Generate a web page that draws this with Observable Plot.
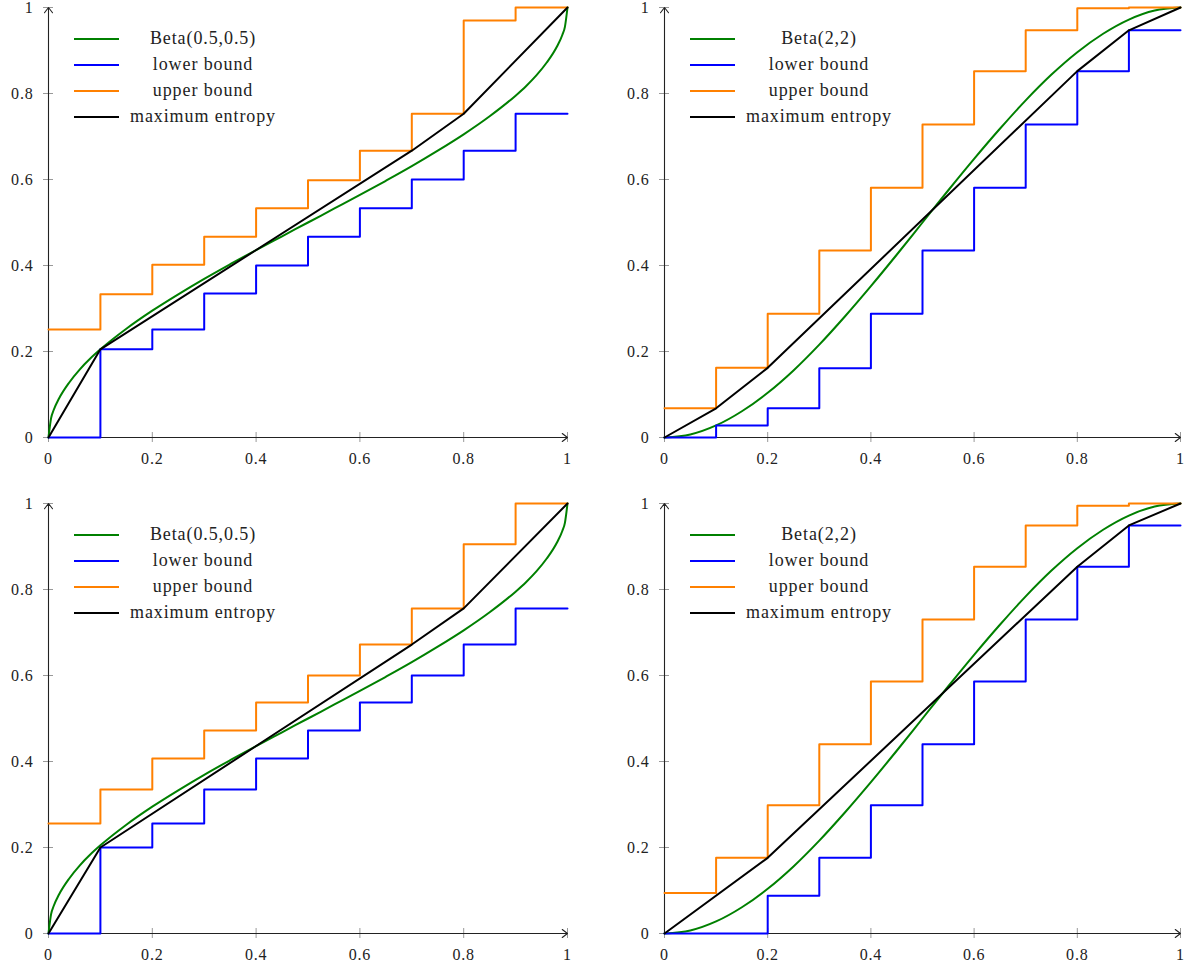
<!DOCTYPE html>
<html><head><meta charset="utf-8">
<script src="https://cdn.jsdelivr.net/npm/d3@7"></script>
<script src="https://cdn.jsdelivr.net/npm/@observablehq/plot@0.6"></script>
<style>
body{margin:0;background:#fff;}
#wrap{position:relative;width:1188px;height:966px;overflow:hidden;}
.panel{position:absolute;width:594px;height:483px;}
.panel svg{display:block;overflow:visible;font-family:"Liberation Serif","DejaVu Serif",serif !important;}
.panel svg text{font-family:"Liberation Serif","DejaVu Serif",serif !important;font-size:16px;letter-spacing:0.8px;fill:#222;}
.legend{position:absolute;font-family:"Liberation Serif","DejaVu Serif",serif;font-size:18px;letter-spacing:0.9px;color:#222;}
.row{display:flex;align-items:center;height:26px;}
.sw{width:45px;height:2px;flex:none;}
.lab{width:168px;text-align:center;white-space:nowrap;flex:none;}
</style></head><body><div id="wrap"></div>
<script>
// ---- data ----
const tickValues = [0, 0.2, 0.4, 0.6, 0.8, 1];
const tickLabels = ["0", "0.2", "0.4", "0.6", "0.8", "1"];
const binStarts = [0, 0.1, 0.2, 0.3, 0.4, 0.5, 0.6, 0.7, 0.8, 0.9];
const seriesNames = ["lower bound", "upper bound", "maximum entropy"];
const colors = {beta: "#008000", lower: "#0000ff", upper: "#ff8000", maxent: "#000000"};

// Beta(0.5,0.5) CDF
const beta05X = [0,0.005,0.01,0.02,0.04,0.06,0.08,0.1,0.15,0.2,0.25,0.3,0.35,0.4,0.45,0.5,0.55,0.6,0.65,0.7,0.75,0.8,0.85,0.9,0.92,0.94,0.96,0.98,0.99,0.995,1];
const beta05Y = [0,0.045,0.064,0.090,0.128,0.158,0.183,0.205,0.253,0.295,0.333,0.369,0.403,0.436,0.468,0.5,0.532,0.564,0.597,0.631,0.667,0.705,0.747,0.795,0.817,0.842,0.872,0.910,0.936,0.955,1];
// Beta(2,2) CDF
const beta22X = [0,0.05,0.1,0.15,0.2,0.25,0.3,0.35,0.4,0.45,0.5,0.55,0.6,0.65,0.7,0.75,0.8,0.85,0.9,0.95,1];
const beta22Y = [0,0.007,0.028,0.061,0.104,0.156,0.216,0.282,0.352,0.425,0.5,0.575,0.648,0.718,0.784,0.844,0.896,0.939,0.972,0.993,1];

// top-left
const tlLower = [0,0.205,0.251,0.335,0.400,0.467,0.533,0.600,0.667,0.753];
const tlUpper = [0.251,0.333,0.402,0.467,0.533,0.598,0.667,0.753,0.970,1.000];
const tlMaxX = [0,0.1,0.7,0.8,1];
const tlMaxY = [0,0.205,0.667,0.753,1];
// top-right
const trLower = [0,0.028,0.068,0.161,0.288,0.435,0.581,0.728,0.852,0.947];
const trUpper = [0.068,0.162,0.288,0.435,0.581,0.728,0.852,0.947,0.998,1.000];
const trMaxX = [0,0.1,0.2,0.8,0.9,1];
const trMaxY = [0,0.068,0.162,0.852,0.947,1];
// bottom-left
const blLower = [0,0.200,0.256,0.335,0.407,0.472,0.537,0.600,0.672,0.756];
const blUpper = [0.256,0.335,0.407,0.472,0.537,0.600,0.672,0.756,0.905,1.000];
const blMaxX = [0,0.1,0.7,0.8,1];
const blMaxY = [0,0.200,0.672,0.756,1];
// bottom-right
const brLower = [0,0,0.088,0.176,0.298,0.440,0.586,0.730,0.853,0.949];
const brUpper = [0.094,0.176,0.298,0.440,0.586,0.730,0.853,0.949,0.995,1.000];
const brMaxX = [0,0.2,0.8,0.9,1];
const brMaxY = [0,0.176,0.853,0.949,1];

// ---- helpers ----
const pairs = (xs, ys) => xs.map((x, i) => ({x, y: ys[i]}));
const steps = (vals) => binStarts.map((x, i) => ({x, y: vals[i]})).concat([{x: 1, y: vals[vals.length - 1]}]);
const fmt = d => tickLabels[tickValues.indexOf(d)];

const wrap = document.getElementById("wrap");

function panel(cfg) {
  const dom = [tickValues[0], tickValues[tickValues.length - 1]];
  const axisLines = [
    {x1: dom[0], y1: dom[0], x2: dom[1], y2: dom[0]},
    {x1: dom[0], y1: dom[0], x2: dom[0], y2: dom[1]}
  ];
  const svg = Plot.plot({
    width: 594, height: 483,
    marginLeft: cfg.ml, marginRight: cfg.mr, marginTop: cfg.mt, marginBottom: cfg.mb,
    x: {domain: dom, label: null},
    y: {domain: dom, label: null},
    style: {fontFamily: "Liberation Serif", fontSize: "16px", color: "#222", background: "transparent", overflow: "visible"},
    marks: [
      Plot.axisX(tickValues, {tickSize: 10, dy: -5, tickFormat: () => "", stroke: "#999", label: null}),
      Plot.axisY(tickValues, {tickSize: 10, dx: 5, tickFormat: () => "", stroke: "#999", label: null}),
      Plot.axisX(tickValues, {tickSize: 0, tickPadding: 15, tickFormat: fmt, label: null}),
      Plot.axisY(tickValues, {tickSize: 0, tickPadding: 15, tickFormat: fmt, label: null}),
      Plot.arrow(axisLines, {x1: "x1", y1: "y1", x2: "x2", y2: "y2", stroke: "#222", strokeWidth: 1.1, headLength: 9, headAngle: 75}),
      Plot.line(pairs(cfg.betaX, cfg.betaY), {x: "x", y: "y", stroke: colors.beta, strokeWidth: 2, curve: "monotone-x"}),
      Plot.line(steps(cfg.lower), {x: "x", y: "y", stroke: colors.lower, strokeWidth: 2, curve: "step-after"}),
      Plot.line(steps(cfg.upper), {x: "x", y: "y", stroke: colors.upper, strokeWidth: 2, curve: "step-after"}),
      Plot.line(pairs(cfg.maxX, cfg.maxY), {x: "x", y: "y", stroke: colors.maxent, strokeWidth: 2})
    ]
  });
  const div = document.createElement("div");
  div.className = "panel";
  div.style.left = cfg.left + "px";
  div.style.top = cfg.top + "px";
  div.appendChild(svg);
  // legend
  const leg = document.createElement("div");
  leg.className = "legend";
  leg.style.left = (cfg.ml + 26) + "px";
  leg.style.top = (cfg.mt + 18.7) + "px";
  const items = [[cfg.name, colors.beta], [seriesNames[0], colors.lower], [seriesNames[1], colors.upper], [seriesNames[2], colors.maxent]];
  for (const [t, c] of items) {
    const r = document.createElement("div");
    r.className = "row";
    const s = document.createElement("span"); s.className = "sw"; s.style.background = c;
    const l = document.createElement("span"); l.className = "lab"; l.textContent = t;
    r.appendChild(s); r.appendChild(l); leg.appendChild(r);
  }
  div.appendChild(leg);
  wrap.appendChild(div);
}

panel({name: "Beta(0.5,0.5)", betaX: beta05X, betaY: beta05Y, lower: tlLower, upper: tlUpper, maxX: tlMaxX, maxY: tlMaxY,
  left: 0, top: 0, ml: 48, mr: 27, mt: 7, mb: 46});
panel({name: "Beta(2,2)", betaX: beta22X, betaY: beta22Y, lower: trLower, upper: trUpper, maxX: trMaxX, maxY: trMaxY,
  left: 594, top: 0, ml: 70, mr: 8, mt: 7, mb: 46});
panel({name: "Beta(0.5,0.5)", betaX: beta05X, betaY: beta05Y, lower: blLower, upper: blUpper, maxX: blMaxX, maxY: blMaxY,
  left: 0, top: 483, ml: 48, mr: 27, mt: 20, mb: 33});
panel({name: "Beta(2,2)", betaX: beta22X, betaY: beta22Y, lower: brLower, upper: brUpper, maxX: brMaxX, maxY: brMaxY,
  left: 594, top: 483, ml: 70, mr: 8, mt: 20, mb: 33});
</script></body></html>
